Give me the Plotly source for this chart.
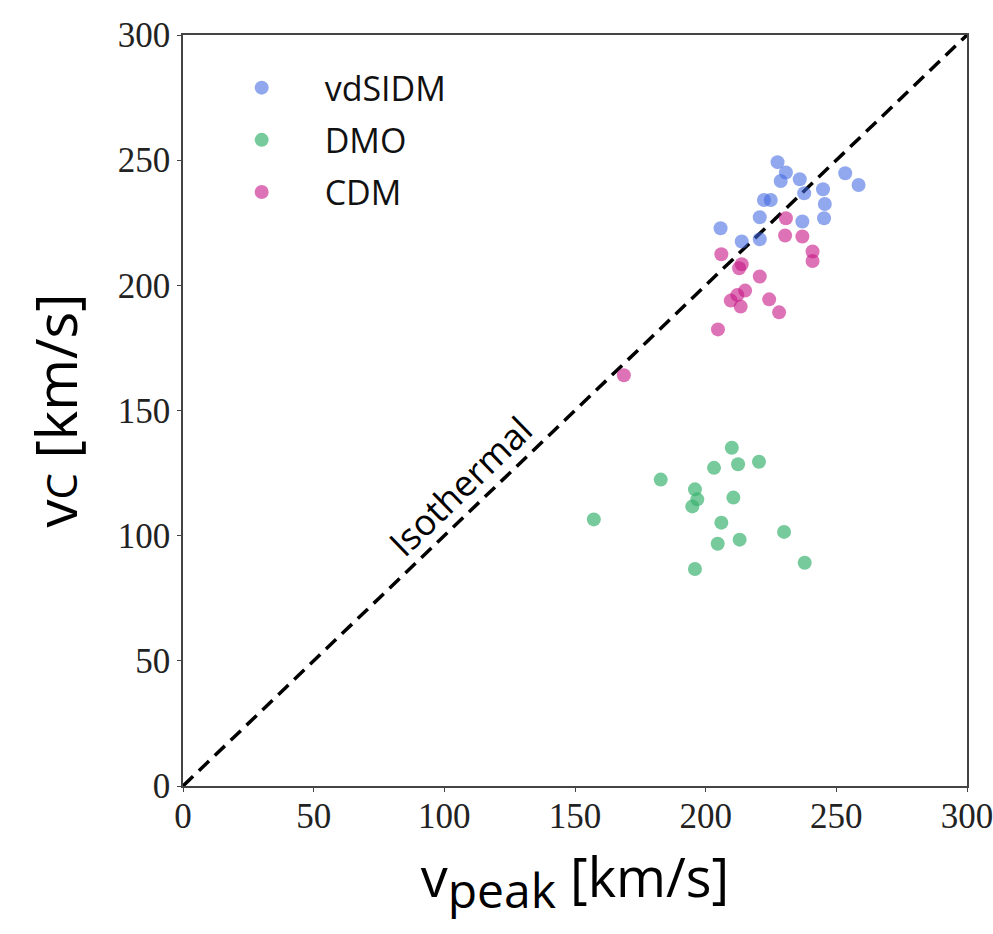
import plotly.graph_objects as go

# Halo circular velocity vs. peak velocity for three simulation suites
vdsidm_vpeak = [227.5, 230.7, 228.7, 236.0, 237.7, 244.9, 253.4, 258.5, 245.6,
                245.3, 237.0, 222.3, 224.9, 220.7, 205.7, 213.8, 220.7]
vdsidm_vc = [249.2, 245.1, 241.7, 242.4, 236.8, 238.4, 244.8, 240.1, 232.5,
             226.8, 225.5, 234.1, 234.1, 227.2, 222.8, 217.5, 218.4]

dmo_vpeak = [210.0, 203.2, 212.4, 220.4, 182.8, 195.9, 196.8, 194.9, 210.6,
             157.2, 206.0, 230.0, 213.0, 204.6, 237.9, 195.9]
dmo_vc = [135.1, 127.1, 128.5, 129.5, 122.4, 118.5, 114.5, 111.7, 115.2,
          106.5, 105.2, 101.5, 98.4, 96.8, 89.2, 86.7]

cdm_vpeak = [230.7, 230.4, 237.0, 240.9, 240.9, 206.0, 213.8, 212.8, 220.7,
             215.1, 212.1, 209.6, 213.4, 224.3, 228.1, 204.7, 168.7]
cdm_vc = [226.8, 219.9, 219.5, 213.5, 209.7, 212.4, 208.4, 206.8, 203.5,
          197.9, 196.1, 193.9, 191.5, 194.4, 189.2, 182.4, 164.1]

axis_range = [0, 300]
tick_vals = [0, 50, 100, 150, 200, 250, 300]

SANS = "Open Sans"
SERIF = "Liberation Serif"

fig = go.Figure()

# one-to-one isothermal reference line
fig.add_trace(go.Scatter(
    x=axis_range, y=axis_range, mode="lines",
    line=dict(color="black", width=3.5, dash="14px,8px"),
    showlegend=False, hoverinfo="skip",
))

series = [
    ("vdSIDM", vdsidm_vpeak, vdsidm_vc, "rgba(65,105,225,0.58)"),
    ("DMO", dmo_vpeak, dmo_vc, "rgba(60,179,113,0.7)"),
    ("CDM", cdm_vpeak, cdm_vc, "rgba(199,21,133,0.6)"),
]
for name, xs, ys, col in series:
    fig.add_trace(go.Scatter(
        x=xs, y=ys, mode="markers", name=name, legendgroup=name,
        marker=dict(size=14, color=col, line=dict(width=0)),
    ))

fig.add_annotation(
    x=106, y=119.6, xref="x", yref="y", text="Isothermal", showarrow=False,
    textangle=-44, font=dict(family=SANS, size=36, color="black"),
)

axis_common = dict(
    range=axis_range, tickvals=tick_vals, showgrid=False, zeroline=False,
    showline=True, linecolor="#444", linewidth=1.6, mirror=True,
    ticks="outside", ticklen=4, tickwidth=1.2, tickcolor="#444",
    tickfont=dict(family=SERIF, size=35, color="#222"),
    ticklabeloverflow="allow", automargin=False,
)

fig.update_xaxes(
    **axis_common,
    ticklabelstandoff=-6,
    title=dict(
        text="v<sub><span style='font-size:48px'>peak</span></sub> [km/s]",
        font=dict(family=SANS, size=54, color="black"), standoff=24,
    ),
)
fig.update_yaxes(
    **axis_common,
    title=dict(
        text="v<span style='font-size:42px'>C</span> [km/s]",
        font=dict(family=SANS, size=56, color="black"), standoff=22,
    ),
)

fig.update_layout(
    width=993, height=934,
    margin=dict(l=183, r=26, t=35, b=148),
    paper_bgcolor="white", plot_bgcolor="white",
    legend=dict(
        x=0.02, y=0.968, xanchor="left", yanchor="top",
        font=dict(family=SANS, size=34, color="#111"),
        itemwidth=116, tracegroupgap=5, traceorder="grouped",
        bgcolor="rgba(0,0,0,0)",
    ),
)

fig.write_html("out.html")
